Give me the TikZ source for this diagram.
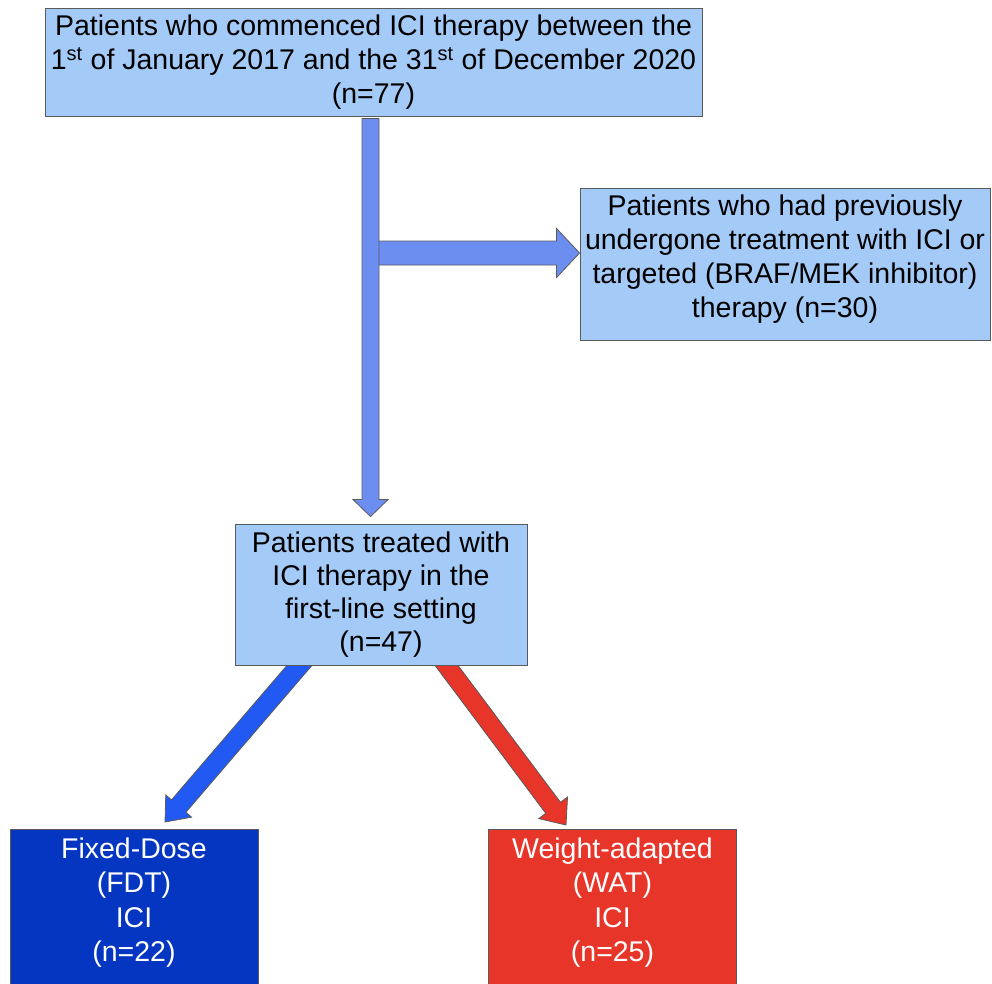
\documentclass[tikz,border=0pt]{standalone}
\usepackage{fontspec}
\setmainfont{Liberation Sans}
\usetikzlibrary{calc,backgrounds}
\definecolor{boxblue}{HTML}{A4CAF7}
\definecolor{arrowblue}{HTML}{6B8EF0}
\definecolor{diagblue}{HTML}{2259F2}
\definecolor{darkblue}{HTML}{0536C2}
\definecolor{redfill}{HTML}{E8352A}
\definecolor{edgegray}{HTML}{5A5A5A}
\newcommand\fatarrow[6]{%
  \coordinate (fa-h) at ($(#2)!#5!(#1)$);
  \draw[arrowedge, fill=#6]
    ($(#1)!#3!90:(#2)$) -- ($(fa-h)!#3!90:(#2)$) -- ($(fa-h)!#4!90:(#2)$) -- (#2)
    -- ($(fa-h)!#4!-90:(#2)$) -- ($(fa-h)!#3!-90:(#2)$) -- ($(#1)!#3!-90:(#2)$) -- cycle;
}
\begin{document}
\begin{tikzpicture}[x=1pt,y=-1pt,
  arrowedge/.style={draw=edgegray, line width=0.8pt, line join=miter},
  lightbox/.style={draw=edgegray, line width=0.9pt, fill=boxblue, align=center,
    inner sep=0pt, font=\fontsize{28.5}{34}\selectfont},
  colbox/.style={draw=edgegray, line width=0.9pt, inner sep=0pt, text=white,
    font=\fontsize{28.5}{34.5}\selectfont}]
\useasboundingbox (0,0) rectangle (992,983);

\node[lightbox, minimum width=657pt, minimum height=108pt] (top) at (373.5,62)
  {Patients who commenced ICI therapy between the\\
   1\textsuperscript{st} of January 2017 and the 31\textsuperscript{st} of December 2020\\
   (n=77)};

\node[lightbox, minimum width=410pt, minimum height=152pt] (right) at (785,264)
  {\begin{minipage}[c][150pt][t]{400pt}\centering\vspace*{6pt}
   Patients who had previously\\
   undergone treatment with ICI or\\
   targeted (BRAF/MEK inhibitor)\\
   therapy (n=30)\end{minipage}};

\node[lightbox, minimum width=292pt, minimum height=141pt,
  font=\fontsize{28.5}{33}\selectfont] (mid) at (381,594.5)
  {Patients treated with\\
   ICI therapy in the\\
   first-line setting\\
   (n=47)};

\node[colbox, fill=darkblue, minimum width=248pt, minimum height=170pt, anchor=north] (fdt) at (134,829)
  {\begin{minipage}[c][168pt][t]{240pt}\centering\vspace*{7pt}
   Fixed-Dose\\(FDT)\\ICI\\(n=22)\end{minipage}};

\node[colbox, fill=redfill, minimum width=248pt, minimum height=170pt, anchor=north] (wat) at (612.5,829)
  {\begin{minipage}[c][168pt][t]{240pt}\centering\vspace*{7pt}
   Weight-adapted\\(WAT)\\ICI\\(n=25)\end{minipage}};

\coordinate (v0) at ($(top.south)+(-3,2)$);
\coordinate (v1) at ($(mid.north)+(-10.5,-7)$);
\coordinate (h1) at ($(right.west)+(0,-11)$);
\coordinate (h0) at (v0 |- h1);
\coordinate (b0) at ($(mid.south)+(-68.7,-15)$);
\coordinate (b1) at ($(fdt.north)+(31,-7)$);
\coordinate (r0) at ($(mid.south)+(54.3,-15)$);
\coordinate (r1) at ($(wat.north)+(-46.5,-4)$);

\begin{scope}[on background layer]
  \fatarrow{h0}{h1}{12pt}{24.5pt}{23pt}{arrowblue}
  \fatarrow{v0}{v1}{8.5pt}{17.5pt}{17pt}{arrowblue}
  \fatarrow{b0}{b1}{9.5pt}{17pt}{21pt}{diagblue}
  \fatarrow{r0}{r1}{9.2pt}{18pt}{21.5pt}{redfill}
\end{scope}
\end{tikzpicture}
\end{document}
